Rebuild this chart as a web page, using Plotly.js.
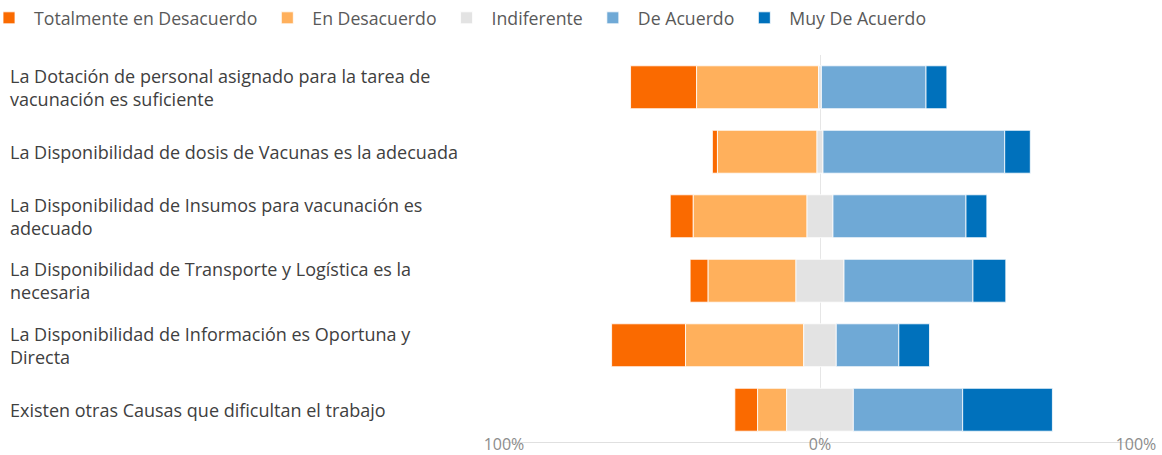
<!DOCTYPE html>
<html>
<head>
<meta charset="utf-8">
<script src="https://cdn.plot.ly/plotly-3.0.1.min.js"></script>
<style>html,body{margin:0;padding:0;background:#fff;}</style>
</head>
<body>
<div id="chart" style="width:1162px;height:455px;"></div>
<script>
var categories = [
  "La Dotación de personal asignado para la tarea de<br>vacunación es suficiente",
  "La Disponibilidad de dosis de Vacunas es la adecuada",
  "La Disponibilidad de Insumos para vacunación es<br>adecuado",
  "La Disponibilidad de Transporte y Logística es la<br>necesaria",
  "La Disponibilidad de Información es Oportuna y<br>Directa",
  "Existen otras Causas que dificultan el trabajo"
];
var seriesNames = ["Totalmente en Desacuerdo", "En Desacuerdo", "Indiferente", "De Acuerdo", "Muy De Acuerdo"];
var totalmenteDesacuerdo = [20.9, 1.6, 7.3, 5.7, 23.4, 7.2];
var enDesacuerdo        = [38.6, 31.5, 36.0, 27.8, 37.4, 9.2];
var indiferente         = [0.9, 1.9, 8.2, 15.2, 10.3, 21.1];
var deAcuerdo           = [33.1, 57.5, 42.1, 40.8, 19.8, 34.6];
var muyDeAcuerdo        = [6.6, 8.1, 6.6, 10.4, 9.7, 28.4];
var tickVals = [-100, 0, 100];
var tickText = ["100%", "0%", "100%"];
var colors = ["#FA6A00", "#FFB05C", "#E3E3E3", "#6FA9D6", "#0071BC"];

// diverging bases: Indiferente split around zero
var baseTD = [], baseED = [], baseIND = [], baseDA = [], baseMDA = [];
for (var i = 0; i < categories.length; i++) {
  var h = indiferente[i] / 2;
  baseIND.push(-h);
  baseED.push(-h - enDesacuerdo[i]);
  baseTD.push(-h - enDesacuerdo[i] - totalmenteDesacuerdo[i]);
  baseDA.push(h);
  baseMDA.push(h + deAcuerdo[i]);
}
var vals = [totalmenteDesacuerdo, enDesacuerdo, indiferente, deAcuerdo, muyDeAcuerdo];
var bases = [baseTD, baseED, baseIND, baseDA, baseMDA];

var traces = vals.map(function (v, k) {
  return {
    type: "bar",
    orientation: "h",
    name: seriesNames[k],
    y: categories,
    x: v,
    base: bases[k],
    width: 0.665,
    marker: {color: colors[k], line: {color: "rgba(255,255,255,0.8)", width: 1}},
    hoverinfo: "name+x"
  };
});

var FONT = "Open Sans, Noto Sans, sans-serif";
var annotations = categories.map(function (c) {
  return {
    xref: "paper", yref: "y",
    x: (8 - 504) / 632, y: c,
    xanchor: "left", yanchor: "middle", align: "left",
    text: c, showarrow: false,
    font: {family: FONT, size: 18, color: "#404040"}
  };
});

var layout = {
  width: 1162, height: 455,
  margin: {l: 504, r: 26, t: 55, b: 13, autoexpand: false},
  paper_bgcolor: "#fff", plot_bgcolor: "#fff",
  barmode: "overlay",
  showlegend: true,
  legend: {
    orientation: "h", xref: "paper", yref: "paper",
    x: (-16 - 504) / 632, y: 1.047, xanchor: "left", yanchor: "bottom",
    itemwidth: 40,
    font: {family: FONT, size: 17.7, color: "#595959"},
    traceorder: "normal"
  },
  xaxis: {
    range: [-100, 100], tickvals: tickVals, ticktext: tickText,
    showgrid: true, gridcolor: "#E6E6E6", gridwidth: 1, zeroline: false,
    showline: true, linecolor: "#E0E0E0", linewidth: 1,
    ticks: "", ticklabelstandoff: -12,
    tickfont: {family: FONT, size: 16, color: "#8C8C8C"},
    fixedrange: true
  },
  yaxis: {
    type: "category", categoryarray: categories, autorange: "reversed",
    showticklabels: false, showgrid: false, zeroline: false, showline: false,
    fixedrange: true
  },
  annotations: annotations,
  font: {family: FONT}
};

Plotly.newPlot("chart", traces, layout, {displayModeBar: false, responsive: false});
</script>
</body>
</html>
